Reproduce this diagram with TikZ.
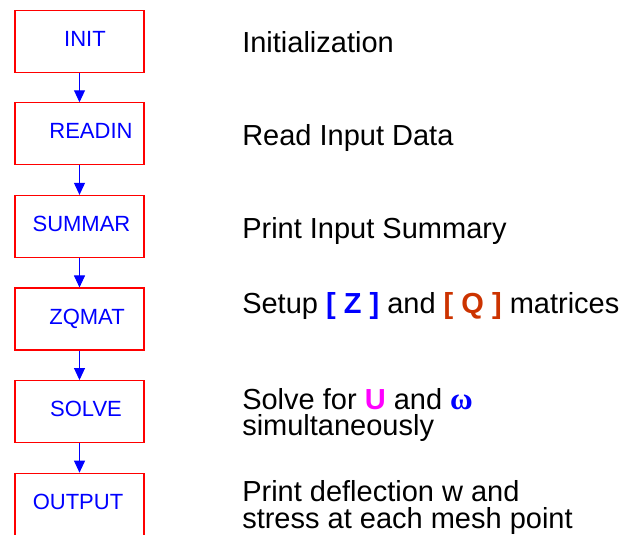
\documentclass[tikz,border=0pt]{standalone}
\usepackage{fontspec}
\setmainfont{Liberation Sans}
\newfontfamily\greekfont{Liberation Serif}
\usepackage{tikz}
\usetikzlibrary{positioning}
\usetikzlibrary{arrows.meta}
\definecolor{qred}{RGB}{204,51,0}
\definecolor{umag}{RGB}{255,0,255}

\begin{document}
\begin{tikzpicture}
    [x=1pt, y=1pt,
     procbox/.style={rectangle, draw=red, line width=1.1pt, minimum height=62pt, minimum width=129pt, inner sep=0pt, text=blue, font=\fontsize{22}{26}\selectfont, text height=16pt, text depth=6pt},
     flow/.style={draw=blue, line width=1pt, -{Triangle[length=12pt, width=11pt]}},
     desc/.style={anchor=base west, inner sep=0pt, align=left, font=\fontsize{29}{24}\selectfont}]

    \useasboundingbox (0,0) rectangle (626,-535);
    \clip (0,0) rectangle (626,-535);

    \node [procbox] (init) at (79.5,-41.2) {\hspace*{11pt}INIT};
    \node [procbox, below=29.5pt of init] (readin) {\hspace*{23pt}READIN};
    \node [procbox, below=29.5pt of readin] (summar) {\hspace*{4pt}SUMMAR};
    \node [procbox, below=29.5pt of summar] (zqmat) {\hspace*{15pt}ZQMAT};
    \node [procbox, below=29.5pt of zqmat] (solve) {\hspace*{13pt}SOLVE};
    \node [procbox, below=29.5pt of solve] (output) {OUTPUT\hspace*{3pt}};

    \draw [flow] (init) -- (readin);
    \draw [flow] (readin) -- (summar);
    \draw [flow] (summar) -- (zqmat);
    \draw [flow] (zqmat) -- (solve);
    \draw [flow] (solve) -- (output);

    \node [desc] (tinit) at ([xshift=97.5pt, yshift=-11pt] init.east) {Initialization};
    \node [desc] (treadin) at ([xshift=97.5pt, yshift=-11.5pt] readin.east) {Read Input Data};
    \node [desc] (tsummar) at ([xshift=97.5pt, yshift=-12pt] summar.east) {Print Input Summary};
    \node [desc] (tzqmat) at ([xshift=97.5pt, yshift=6pt] zqmat.east)
        {Setup \textcolor{blue}{\bfseries [ Z ]} and \textcolor{qred}{\bfseries [ Q ]} matrices};
    \node [desc] (tsolve) at ([xshift=97.5pt, yshift=-23.5pt] solve.east)
        {Solve for \textcolor{umag}{\bfseries U} and \textcolor{blue}{\greekfont\bfseries\fontsize{31}{24}\selectfont ω}\\[1.5pt]simultaneously};
    \node [desc] (toutput) at ([xshift=97.5pt, yshift=-24pt] output.east)
        {Print deflection w and\\[3pt]stress at each mesh point};
\end{tikzpicture}
\end{document}
